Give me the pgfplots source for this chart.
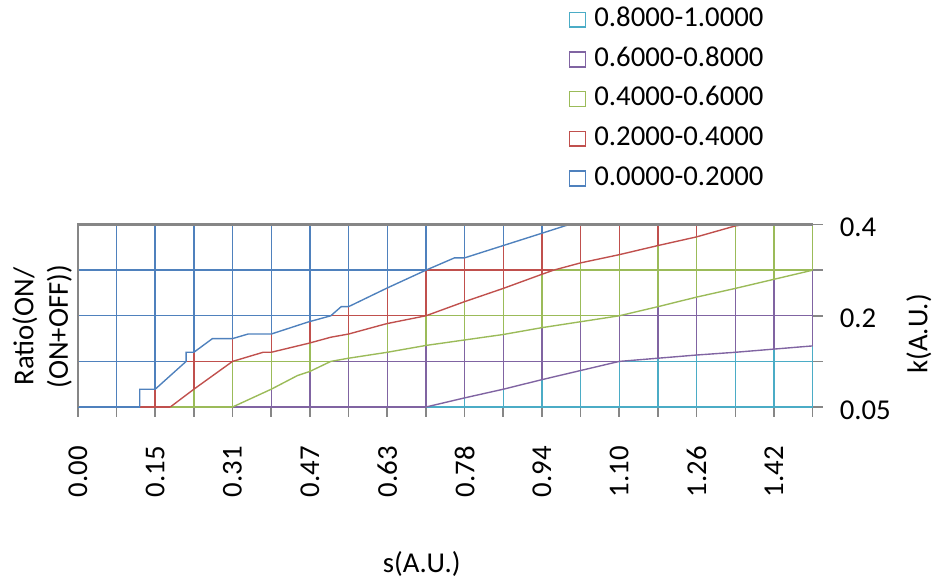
\documentclass[border=0pt]{standalone}
\usepackage{fontspec}
\setmainfont{Carlito}
\usepackage{pgfplots}
\pgfplotsset{compat=1.18}
\definecolor{cblue}{HTML}{4F81BD}
\definecolor{cred}{HTML}{C0504D}
\definecolor{cgreen}{HTML}{9BBB59}
\definecolor{cpurple}{HTML}{8064A2}
\definecolor{ccyan}{HTML}{4BACC6}
\definecolor{cgray}{HTML}{868686}
\begin{document}
\fontsize{14.5}{17.5}\selectfont
\begin{tikzpicture}
\begin{axis}[
  scale only axis, width=370.5pt, height=92pt,
  xmin=0, xmax=19, ymin=0, ymax=4,
  clip=false,
  axis line style={draw=none},
  xtick={0,...,19},
  xticklabels={0.00,,0.15,,0.31,,0.47,,0.63,,0.78,,0.94,,1.10,,1.26,,1.42,},
  ytick={0,...,4},
  yticklabels={0.05,,0.2,,0.4},
  xtick pos=left, ytick pos=right,
  xticklabel pos=left, yticklabel pos=right,
  tick align=outside, major tick length=5pt,
  tick style={draw=cgray, line width=0.75pt},
  tick label style={font=\fontsize{14.5}{17.5}\selectfont},
  xticklabel shift=14.5pt,
  xticklabel style={rotate=90, anchor=east, inner sep=0pt},
  yticklabel style={xshift=8.5pt, yshift=-1.5pt, anchor=west, inner sep=0pt},
  xlabel={s(A.U.)},
  xlabel style={at={(rel axis cs:0.468,-0.8598)}, anchor=center, font=\fontsize{14.5}{17.5}\selectfont},
  ylabel={Ratio(ON/\\(ON+OFF))},
  ylabel style={at={(rel axis cs:-0.0486,0.4402)}, anchor=center, align=center, font=\fontsize{14.5}{17.5}\selectfont},
  legend style={at={(rel axis cs:0.6673,2.2065)}, anchor=north west, draw=none, fill=none, inner sep=0pt, row sep=5pt,
    nodes={inner sep=0pt, text height=11pt, text depth=4pt}, font=\fontsize{14.5}{17.5}\selectfont,
    /tikz/every odd column/.append style={column sep=4pt}},
  legend cell align=left,
  legend image code/.code={\draw[#1, line width=0.75pt, fill=white] (0pt,-3.75pt) rectangle (8.3pt,3.75pt);},
  every axis plot/.append style={line width=0.7pt},
  unbounded coords=jump,
]
\addlegendimage{ccyan}\addlegendentry{0.8000-1.0000}
\addlegendimage{cpurple}\addlegendentry{0.6000-0.8000}
\addlegendimage{cgreen}\addlegendentry{0.4000-0.6000}
\addlegendimage{cred}\addlegendentry{0.2000-0.4000}
\addlegendimage{cblue}\addlegendentry{0.0000-0.2000}

% grid segments coloured by band
\addplot[cblue, forget plot] coordinates {
(1,0) (1,4) (1,nan)
(2,0.39) (2,4) (2,nan)
(3,1.2) (3,4) (3,nan)
(4,1.5) (4,4) (4,nan)
(5,1.6) (5,4) (5,nan)
(6,1.874) (6,4) (6,nan)
(7,2.2) (7,4) (7,nan)
(8,2.61) (8,4) (8,nan)
(9,3) (9,4) (9,nan)
(10,3.27) (10,4) (10,nan)
(11,3.54) (11,4) (11,nan)
(12,3.81) (12,4) (12,nan)
(0,0) (1.6,0) (0,nan)
(0,1) (2.8,1) (0,nan)
(0,2) (6.54,2) (0,nan)
(0,3) (9,3)
};
\addplot[cred, forget plot] coordinates {
(2,0) (2,0.39) (2,nan)
(3,0.39) (3,1.2) (3,nan)
(4,1) (4,1.5) (4,nan)
(5,1.2) (5,1.6) (5,nan)
(6,1.405) (6,1.874) (6,nan)
(7,1.6) (7,2.2) (7,nan)
(8,1.83) (8,2.61) (8,nan)
(9,2) (9,3) (9,nan)
(10,2.31) (10,3.27) (10,nan)
(11,2.6) (11,3.54) (11,nan)
(12,2.91) (12,3.81) (12,nan)
(13,3.16) (13,4) (13,nan)
(14,3.34) (14,4) (14,nan)
(15,3.54) (15,4) (15,nan)
(16,3.73) (16,4) (16,nan)
(17,3.97) (17,4) (17,nan)
(1.6,0) (2.39,0) (0,nan)
(2.8,1) (4,1) (0,nan)
(6.54,2) (9,2) (0,nan)
(9,3) (12.3,3)
};
\addplot[cgreen, forget plot] coordinates {
(3,0) (3,0.39) (3,nan)
(4,0) (4,1) (4,nan)
(5,0.39) (5,1.2) (5,nan)
(6,0.78) (6,1.405) (6,nan)
(7,1.07) (7,1.6) (7,nan)
(8,1.2) (8,1.83) (8,nan)
(9,1.35) (9,2) (9,nan)
(10,1.47) (10,2.31) (10,nan)
(11,1.59) (11,2.6) (11,nan)
(12,1.74) (12,2.91) (12,nan)
(13,1.87) (13,3.16) (13,nan)
(14,2) (14,3.34) (14,nan)
(15,2.2) (15,3.54) (15,nan)
(16,2.41) (16,3.73) (16,nan)
(17,2.6) (17,3.97) (17,nan)
(18,2.8) (18,4) (18,nan)
(19,3) (19,4) (19,nan)
(2.39,0) (4,0) (0,nan)
(4,1) (6.54,1) (0,nan)
(9,2) (14,2) (0,nan)
(12.3,3) (19,3)
};
\addplot[cpurple, forget plot] coordinates {
(5,0) (5,0.39) (5,nan)
(6,0) (6,0.78) (6,nan)
(7,0) (7,1.07) (7,nan)
(8,0) (8,1.2) (8,nan)
(9,0) (9,1.35) (9,nan)
(10,0.2) (10,1.47) (10,nan)
(11,0.39) (11,1.59) (11,nan)
(12,0.6) (12,1.74) (12,nan)
(13,0.8) (13,1.87) (13,nan)
(14,1) (14,2) (14,nan)
(15,1.07) (15,2.2) (15,nan)
(16,1.14) (16,2.41) (16,nan)
(17,1.2) (17,2.6) (17,nan)
(18,1.27) (18,2.8) (18,nan)
(19,1.34) (19,3) (19,nan)
(4,0) (9,0) (0,nan)
(6.54,1) (14,1) (0,nan)
(14,2) (19,2)
};
\addplot[ccyan, forget plot] coordinates {
(10,0) (10,0.2) (10,nan)
(11,0) (11,0.39) (11,nan)
(12,0) (12,0.6) (12,nan)
(13,0) (13,0.8) (13,nan)
(14,0) (14,1) (14,nan)
(15,0) (15,1.07) (15,nan)
(16,0) (16,1.14) (16,nan)
(17,0) (17,1.2) (17,nan)
(18,0) (18,1.27) (18,nan)
(19,0) (19,1.34) (19,nan)
(9,0) (19,0) (0,nan)
(14,1) (19,1)
};
% contour lines
\addplot[cblue, forget plot] coordinates {
(1.6,0) (1.6,0.39) (2,0.39) (2.8,1) (2.8,1.2) (3,1.2) (3.48,1.5) (4,1.5) (4.4,1.6) (5,1.6) (5.94,1.86) (6.54,2) (6.81,2.2) (7,2.2) (8,2.61) (9,3) (9.74,3.27) (10,3.27) (11,3.54) (12,3.81) (12.7,4)
};
\addplot[cred, forget plot] coordinates {
(2.39,0) (3,0.39) (4,1) (4.79,1.2) (5,1.2) (5.98,1.4) (6.54,1.53) (7,1.6) (7.82,1.79) (8,1.83) (9,2) (10,2.31) (11,2.6) (12,2.91) (12.3,3) (13,3.16) (14,3.34) (15,3.54) (16,3.73) (17,3.97) (17.2,4)
};
\addplot[cgreen, forget plot] coordinates {
(4,0) (5,0.39) (5.68,0.69) (6,0.78) (6.54,1) (7,1.07) (8,1.2) (9,1.35) (10,1.47) (11,1.59) (12,1.74) (13,1.87) (14,2) (15,2.2) (16,2.41) (17,2.6) (18,2.8) (19,3)
};
\addplot[cpurple, forget plot] coordinates {
(9,0) (10,0.2) (11,0.39) (12,0.6) (13,0.8) (14,1) (15,1.07) (16,1.14) (17,1.2) (18,1.27) (19,1.34)
};
% back walls
\addplot[cgray, line width=1.25pt, forget plot] coordinates {(0,0) (0,4) (19,4)};

\node[rotate=90, font=\fontsize{14.5}{17.5}\selectfont] at (rel axis cs:1.1447,0.401) {k(A.U.)};
\path (rel axis cs:-0.105938,-0.9375) rectangle (rel axis cs:1.163968,2.23098);
\end{axis}
\end{tikzpicture}
\end{document}
